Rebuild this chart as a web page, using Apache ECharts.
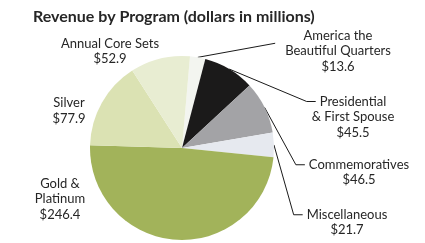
<!DOCTYPE html>
<html><head><meta charset="utf-8">
<script src="https://cdn.jsdelivr.net/npm/echarts@6/dist/echarts.min.js"></script>
<style>html,body{margin:0;padding:0;background:#fff}#c{width:425px;height:243px}</style>
</head><body><div id="c"></div>
<script>
// ---- data ----
const categories = ['America the\nBeautiful Quarters', 'Presidential\n& First Spouse', 'Commemoratives', 'Miscellaneous', 'Gold &\nPlatinum', 'Silver', 'Annual Core Sets'];
const values = [13.6, 45.5, 46.5, 21.7, 246.4, 77.9, 52.9];
const titleText = 'Revenue by Program (dollars in millions)';

// ---- style / layout ----
const colors = ['#f3f5f0', '#1b1a1a', '#a3a3a6', '#e6e9ef', '#a2b35a', '#dbe2b3', '#e8edd2'];
const labelCenters = [[338, 51], [353, 117], [359, 172.5], [347, 222.5], [60, 199], [69, 111], [110, 51.5]];
const hasLine = [true, true, true, true, false, false, false];
const FONT = 'Lato';
const FS = 13;
const LH = 15.5;

const ctx = document.createElement('canvas').getContext('2d');
ctx.font = FS + 'px ' + FONT;
function tw(s) { return ctx.measureText(s).width; }

const chart = echarts.init(document.getElementById('c'), null, { renderer: 'canvas' });
chart.setOption({
  backgroundColor: '#ffffff',
  animation: false,
  title: {
    text: titleText, left: 28, top: 4,
    textStyle: { fontFamily: FONT, fontSize: 16, fontWeight: 'bold', color: '#262626' }
  },
  series: [{
    type: 'pie',
    radius: 92,
    center: [182, 148],
    startAngle: 85,
    clockwise: true,
    avoidLabelOverlap: false,
    data: categories.map((n, i) => ({
      name: n, value: values[i],
      itemStyle: { color: colors[i] },
      labelLine: { show: hasLine[i] }
    })),
    itemStyle: { borderWidth: 0 },
    label: {
      show: true, position: 'outside',
      formatter: p => p.name + '\n$' + p.value.toFixed(1),
      fontFamily: FONT, fontSize: FS, lineHeight: LH, color: '#262626', align: 'center'
    },
    labelLine: { show: true, lineStyle: { color: '#1a1a1a', width: 1 } },
    emphasis: { disabled: true },
    labelLayout: function (params) {
      const i = params.dataIndex;
      const c = labelCenters[i];
      const lines = (categories[i] + '\n$' + values[i].toFixed(1)).split('\n');
      const top = c[1] - lines.length * LH / 2;
      const res = { x: c[0], y: c[1], align: 'center', verticalAlign: 'middle', hideOverlap: false };
      if (hasLine[i] && params.labelLinePoints) {
        const p0 = params.labelLinePoints[0];
        if (i === 0) {
          const w = Math.max.apply(null, lines.map(tw));
          const end = [c[0] - w / 2 - 10, top + LH];
          res.labelLinePoints = [p0, end, end];
        } else {
          const w = tw(lines[0]);
          const y = top + LH / 2;
          const endX = c[0] - w / 2 - 4;
          res.labelLinePoints = [p0, [endX - 9, y], [endX, y]];
        }
      }
      return res;
    }
  }]
});
</script></body></html>
